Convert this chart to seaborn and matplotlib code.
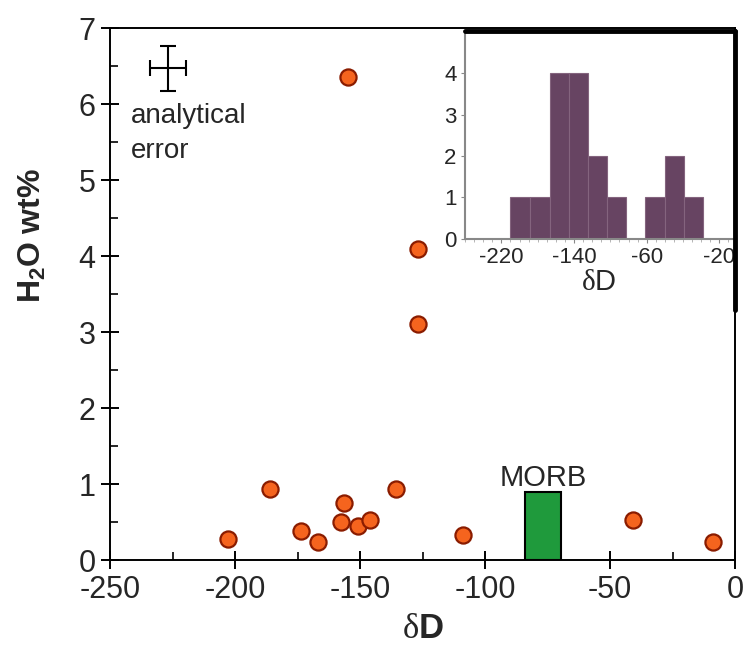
import numpy as np
import seaborn as sns
import matplotlib.pyplot as plt
from matplotlib.lines import Line2D
from matplotlib.ticker import MultipleLocator

# Datos
dD = [-155, -127, -127, -203, -186, -173.5, -167, -156.5, -157.5, -151, -146, -135.5, -109, -41, -9]
h2o = [6.36, 4.09, 3.11, 0.28, 0.94, 0.39, 0.24, 0.76, 0.50, 0.45, 0.53, 0.94, 0.34, 0.53, 0.24]

# MORB
morb_dD = (-84, -69.5)
morb_h2o = 0.9

# Error analitico
err_x, err_y = -227, 6.47
err_dx, err_dy = 7.2, 0.3

# Histograma del recuadro
hist_edges = [-210, -188, -167, -146, -125, -104, -83, -62, -40, -19, 2]
hist_counts = [1, 1, 4, 4, 2, 1, 0, 1, 2, 1]
hist_ticks = [-220, -140, -60, 20]
hist_ticklabels = ['-220', '-140', '-60', '-20']

sns.set_style('ticks')
plt.rcParams['font.family'] = ['Liberation Sans', 'DejaVu Sans']
plt.rcParams['axes.unicode_minus'] = False
plt.rcParams['mathtext.fontset'] = 'custom'
plt.rcParams['mathtext.rm'] = 'Liberation Sans'
plt.rcParams['mathtext.bf'] = 'Liberation Sans:bold'
plt.rcParams['mathtext.it'] = 'Liberation Serif'

fig = plt.figure(figsize=(7.45, 6.54), dpi=100)
ax = fig.add_axes([0.1477, 0.143, 0.839, 0.814])

sns.scatterplot(x=dD, y=h2o, s=135, color='#f5641e', edgecolor='#8a1c00',
                linewidth=1.6, zorder=4, ax=ax)

centre = (morb_dD[0] + morb_dD[1]) / 2
ax.bar(centre, morb_h2o, width=morb_dD[1] - morb_dD[0], color='#1f9a3c',
       edgecolor='black', linewidth=1.5, zorder=3)
ax.text(centre, 0.98, 'MORB', ha='center', va='baseline', fontsize=21)

ax.errorbar(err_x, err_y, xerr=err_dx, yerr=err_dy, color='black',
            capsize=6, lw=1.5, capthick=1.5)
ax.text(-241.5, 5.75, 'analytical', fontsize=20, va='baseline')
ax.text(-241.5, 5.29, 'error', fontsize=20, va='baseline')

ax.set_xlim(-250, 0)
ax.set_ylim(0, 7)
ax.xaxis.set_major_locator(MultipleLocator(50))
ax.xaxis.set_minor_locator(MultipleLocator(25))
ax.yaxis.set_major_locator(MultipleLocator(1))
ax.yaxis.set_minor_locator(MultipleLocator(0.5))
ax.tick_params(which='major', direction='inout', length=13, width=1.4,
               labelsize=22, color='black')
ax.tick_params(axis='x', which='major', pad=4)
ax.tick_params(axis='y', which='major', pad=4)
ax.tick_params(which='minor', direction='in', length=5.5, width=1.4)
for sp in ax.spines.values():
    sp.set_linewidth(1.4)
    sp.set_color('black')
ax.set_xlabel(r'$\delta\mathbf{D}$', fontsize=25)
ax.xaxis.set_label_coords(0.5, -0.097)
ax.set_ylabel(r'$\mathbf{H_2O\ wt\%}$', fontsize=23)
ax.yaxis.set_label_coords(-0.1, 0.61)

# Recuadro
ins = fig.add_axes([0.6242, 0.6353, 0.3597, 0.3157])
ins.set_facecolor('white')
centres = [(a + b) / 2 for a, b in zip(hist_edges[:-1], hist_edges[1:])]
sns.histplot(x=centres, weights=hist_counts, bins=hist_edges, ax=ins,
             color='#674462', alpha=1, edgecolor='#84647e', linewidth=0.8)
ins.set_xlim(-260, 35)
ins.set_ylim(0, 5)
ins.set_xticks(hist_ticks)
ins.set_xticklabels(hist_ticklabels)
ins.set_yticks([0, 1, 2, 3, 4])
ins.xaxis.set_minor_locator(MultipleLocator(10))
ins.tick_params(which='major', direction='out', length=3, color='#888888',
                labelsize=16, pad=3)
ins.tick_params(which='minor', direction='out', length=2, color='#aaaaaa')
for s in ['top', 'right']:
    ins.spines[s].set_visible(False)
for s in ['left', 'bottom']:
    ins.spines[s].set_color('#888888')
    ins.spines[s].set_linewidth(1.5)
ins.set_ylabel('')
ins.set_xlabel(r'$\delta\mathrm{D}$', fontsize=21, labelpad=0)

# Marco grueso del recuadro
fig.add_artist(Line2D([465 / 745, 735 / 745], [1 - 31 / 654, 1 - 31 / 654],
                      color='black', lw=3.5, transform=fig.transFigure))
fig.add_artist(Line2D([735 / 745, 735 / 745], [1 - 31 / 654, 1 - 310 / 654],
                      color='black', lw=3.5, transform=fig.transFigure))

fig.savefig('out.png', dpi=100)
